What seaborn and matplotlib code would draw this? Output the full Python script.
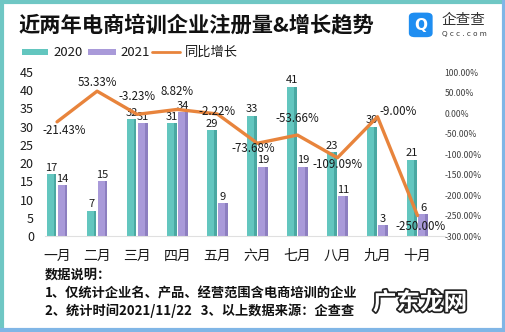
import numpy as np
import pandas as pd
import matplotlib
matplotlib.use("Agg")
import matplotlib.pyplot as plt
import matplotlib.patheffects as pe
from matplotlib.patches import Rectangle, FancyBboxPatch
from matplotlib.lines import Line2D
import seaborn as sns

# ---- data ----
months = ["一月", "二月", "三月", "四月", "五月", "六月", "七月", "八月", "九月", "十月"]
count_2020 = [17, 7, 32, 31, 29, 33, 41, 23, 30, 21]
count_2021 = [14, 15, 31, 34, 9, 19, 19, 11, 3, 6]
growth_pct = [-21.43, 53.33, -3.23, 8.82, -2.22, -73.68, -53.66, -109.09, -9.00, -250.00]
years = ["2020", "2021"]
left_ticks = list(range(0, 50, 5))
right_ticks = list(range(-300, 150, 50))

# ---- style ----
sns.set_theme(style="white")
plt.rcParams["font.family"] = ["Noto Sans CJK SC", "DejaVu Sans"]
plt.rcParams["axes.unicode_minus"] = False

TEAL = "#63c6bf"
PURPLE = "#a99ad9"
ORANGE = "#e8843c"
TXT = "#1a1a1a"
W, H = 506, 332

# growth-label offsets in points (dx, dy)
growth_label_offsets = [(5, -6), (0, 6), (0, 13), (0, 13), (0, 2),
                        (-3, -3.5), (0, 12), (0, -5), (15, 4), (2, -8)]

df = pd.DataFrame({
    "月份": months * 2,
    "年份": [years[0]] * len(months) + [years[1]] * len(months),
    "数量": count_2020 + count_2021,
})

fig = plt.figure(figsize=(W / 100, H / 100), dpi=100)
fig.patch.set_facecolor("white")
ax = fig.add_axes([0.089, 0.289, 0.79, 0.494])

sns.barplot(data=df, x="月份", y="数量", hue="年份", palette=[TEAL, PURPLE],
            width=0.55, gap=0.12, linewidth=0, saturation=1, ax=ax, legend=False)

# darker right face on each bar for a slight 3D look
shade = {TEAL: "#4aa8a2", PURPLE: "#8d7fc0"}
for bar in list(ax.patches):
    x0, w, h = bar.get_x(), bar.get_width(), bar.get_height()
    fc = matplotlib.colors.to_hex(bar.get_facecolor())
    dark = shade.get(fc, fc)
    ax.add_patch(Rectangle((x0 + w * 0.72, 0), w * 0.28, h, color=dark, lw=0, zorder=bar.get_zorder()))

# value labels above bars
for container in ax.containers:
    ax.bar_label(container, padding=1, fontsize=8, color=TXT)

ax.set_ylim(0, 45)
ax.set_xlim(-0.3, 9.68)
ax.set_yticks(left_ticks)
ax.tick_params(axis="y", labelsize=9, colors=TXT, length=0, pad=8)
ax.tick_params(axis="x", labelsize=10, colors=TXT, length=0, pad=9)
ax.set_xlabel("")
ax.set_ylabel("")
for side in ["top", "left", "right"]:
    ax.spines[side].set_visible(False)
ax.spines["bottom"].set_color("#e0e0e0")
ax.spines["bottom"].set_linewidth(0.8)
ax.grid(False)

# growth line on secondary axis
ax2 = ax.twinx()
sns.lineplot(x=np.arange(len(months)), y=growth_pct, color=ORANGE, linewidth=2.4, ax=ax2)
ax2.set_ylim(-300, 100)
ax2.set_yticks(right_ticks)
ax2.set_yticklabels([f"{v:.2f}%" for v in right_ticks])
ax2.tick_params(axis="y", labelsize=6.2, colors="#404040", length=0, pad=0)
for side in ["top", "left", "right", "bottom"]:
    ax2.spines[side].set_visible(False)
ax2.grid(False)
for i, (v, off) in enumerate(zip(growth_pct, growth_label_offsets)):
    ax2.annotate(f"{v:.2f}%", (i, v), xytext=off, textcoords="offset points",
                 ha="center", va="center", fontsize=8.3, color=TXT)

# title
fig.text(0.036, 0.922, "近两年电商培训企业注册量&增长趋势", fontsize=15.3,
         fontweight="bold", color="#111111", va="center", ha="left")

# legend row (pixel layout converted to figure fractions)
def fx(px):
    return px / W

def fy(py):
    return 1 - py / H

fig.add_artist(Rectangle((fx(22), fy(55)), fx(26), 6 / H, transform=fig.transFigure,
                         facecolor=TEAL, edgecolor="none"))
fig.text(fx(53), fy(52), years[0], fontsize=9.5, color=TXT, va="center", ha="left")
fig.add_artist(Rectangle((fx(88), fy(55)), fx(28), 6 / H, transform=fig.transFigure,
                         facecolor=PURPLE, edgecolor="none"))
fig.text(fx(120), fy(52), years[1], fontsize=9.5, color=TXT, va="center", ha="left")
fig.add_artist(Line2D([fx(152), fx(180)], [fy(52), fy(52)], transform=fig.transFigure,
                      color=ORANGE, lw=2))
fig.text(fx(185), fy(52), "同比增长", fontsize=9.5, color=TXT, va="center", ha="left")

# brand mark
fig.add_artist(FancyBboxPatch((0.808, 0.888), 0.047, 0.074, transform=fig.transFigure,
                              boxstyle="round,pad=0,rounding_size=0.012",
                              facecolor="#1f8ef1", edgecolor="none"))
fig.text(0.8315, 0.924, "Q", fontsize=11, fontweight="bold", color="white",
         ha="center", va="center", family="DejaVu Sans")
fig.text(0.873, 0.94, "企查查", fontsize=10.5, color="#333333", ha="left", va="center")
fig.text(0.874, 0.897, "Q c c . c o m", fontsize=5.2, color="#333333", ha="left",
         va="center", family="DejaVu Sans")

# notes
fig.text(0.089, 0.172, "数据说明：", fontsize=9.5, fontweight="bold", color="#111111", va="center")
fig.text(0.089, 0.117, "1、仅统计企业名、产品、经营范围含电商培训的企业", fontsize=9.5,
         fontweight="bold", color="#111111", va="center")
fig.text(0.089, 0.063, "2、统计时间2021/11/22   3、以上数据来源：企查查", fontsize=9.5,
         fontweight="bold", color="#111111", va="center")

# watermark
fig.text(0.83, 0.088, "广东龙网", fontsize=17, fontweight="bold", color="white",
         ha="center", va="center",
         path_effects=[pe.withStroke(linewidth=2.5, foreground="#222222")])

# frame
fig.add_artist(Line2D([0, 1], [0.995, 0.995], transform=fig.transFigure, color="#6fc7c4", lw=3))
fig.add_artist(Line2D([0.003, 0.003], [0, 1], transform=fig.transFigure, color="#6fc7c4", lw=3))
fig.add_artist(Line2D([0, 1], [0.005, 0.005], transform=fig.transFigure, color="#80b6e6", lw=3))
fig.add_artist(Line2D([0.997, 0.997], [0, 1], transform=fig.transFigure, color="#80b6e6", lw=3))

fig.savefig("out.png", dpi=100, facecolor="white")
